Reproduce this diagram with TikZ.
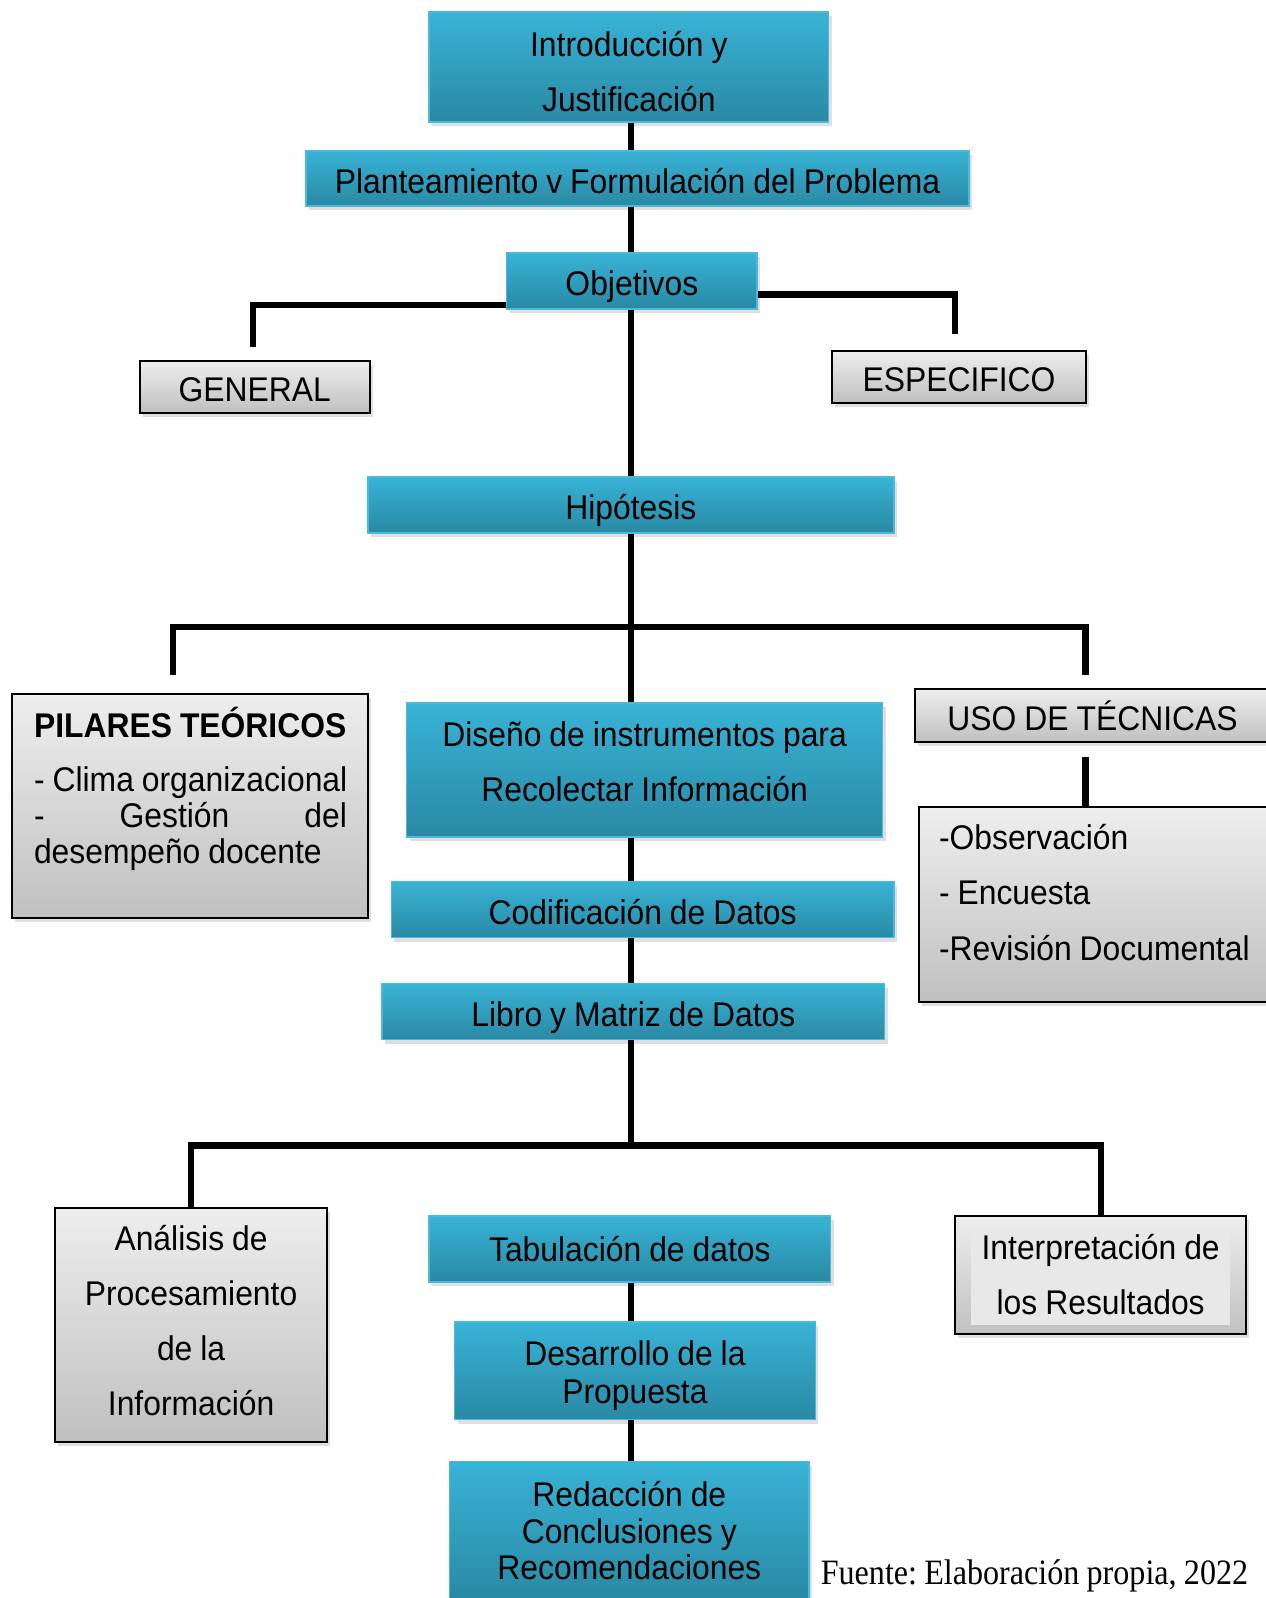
\documentclass[tikz,border=0pt]{standalone}
\usepackage{fontspec}
\setmainfont{Liberation Sans}[FakeStretch=0.93, WordSpace=0.9]
\newfontfamily\timesf{Liberation Serif}[FakeStretch=0.9, WordSpace=0.9]
\usetikzlibrary{shadows}
\frenchspacing
\definecolor{bluetop}{RGB}{56,179,214}
\definecolor{bluebot}{RGB}{41,137,164}
\definecolor{blueedge}{RGB}{75,185,220}
\definecolor{graytop}{RGB}{238,238,238}
\definecolor{graybot}{RGB}{192,192,192}
\definecolor{grayin}{RGB}{232,232,232}
\tikzset{
  mainfont/.style={font=\fontsize{16.8}{27}\selectfont},
  bluebox/.style={rectangle, draw=blueedge, line width=0.8pt, top color=bluetop, bottom color=bluebot,
    drop shadow={opacity=0.25, shadow xshift=1.5pt, shadow yshift=-2pt},
    align=center, inner sep=0pt, mainfont},
  graybox/.style={rectangle, draw=black, line width=1pt, top color=graytop, bottom color=graybot,
    drop shadow={opacity=0.25, shadow xshift=1.5pt, shadow yshift=-2pt},
    align=center, inner sep=0pt, mainfont},
  oneline/.style={text height=15pt, text depth=0.5pt},
  boxtext/.style={inner sep=0pt, align=left, mainfont},
  conn/.style={line width=3.1pt, black},
}
\begin{document}
\begin{tikzpicture}[x=0.5pt, y=-0.5pt]
\useasboundingbox[fill=white] (0,0) rectangle (1242,1568);

\coordinate (tx) at (619,0);
\coordinate (genTop) at (248,340);
\coordinate (espTop) at (937,328);
\coordinate (pilTop) at (170,662);
\coordinate (usoTop) at (1065,662);
\coordinate (usoBot) at (1065,743);

% boxes
\node[bluebox, minimum width=196pt, minimum height=54pt] (intro) at (617,66) {\mbox{}\\[-10pt]Introducción y\\Justificación};
\node[bluebox, oneline, minimum width=325.5pt, minimum height=27pt] (plan) at (625.5,175) {Planteamiento v Formulación del Problema};
\node[bluebox, oneline, minimum width=123pt, minimum height=27.5pt] (obj) at (620,275.5) {Objetivos};
\node[graybox, oneline, minimum width=113pt, minimum height=25.5pt] (gen) at (250,379.5) {GENERAL};
\node[graybox, oneline, minimum width=125pt, minimum height=25.5pt] (esp) at (941,369.5) {ESPECIFICO};
\node[bluebox, oneline, minimum width=258pt, minimum height=27.5pt] (hip) at (619,495.5) {Hipótesis};

\node[graybox, minimum width=174.5pt, minimum height=110pt] (pil) at (186.5,791) {};
\node[boxtext, text width=170pt, anchor=base west, font=\fontsize{16.8}{17.5}\selectfont] (pilt) at (33,724)
  {\spaceskip=0pt\xspaceskip=0pt\textbf{PILARES TEÓRICOS}\\[9pt]- Clima organizacional\\\makebox[153.5pt][l]{-\hfill Gestión\hfill del}\\desempeño docente};

\node[bluebox, minimum width=233.5pt, minimum height=65.5pt] (dis) at (632.5,755.5) {Diseño de instrumentos para\\Recolectar Información\\[-19pt]\mbox{}};
\node[graybox, oneline, minimum width=174pt, minimum height=26pt] (uso) at (1072,702) {USO DE TÉCNICAS};
\node[graybox, minimum width=172pt, minimum height=95.5pt] (tec) at (1074,887.5) {};
\node[boxtext, text width=165pt, anchor=base west] (tect) at (921,834)
  {\spaceskip=0pt\xspaceskip=0pt-Observación\\- Encuesta\\-Revisión Documental};

\node[bluebox, oneline, minimum width=246.5pt, minimum height=27.5pt] (cod) at (630.5,892.5) {Codificación de Datos};
\node[bluebox, oneline, minimum width=246.5pt, minimum height=27.5pt] (lib) at (621.5,992.5) {Libro y Matriz de Datos};

\node[graybox, minimum width=133.5pt, minimum height=115pt] (ana) at (187.5,1300) {Análisis de\\Procesamiento\\de la\\Información\\[-23pt]\mbox{}};
\node[bluebox, minimum width=197pt, minimum height=32.5pt] (tab) at (618,1225.5) {Tabulación de datos};
\node[graybox, minimum width=143pt, minimum height=58pt,
  path picture={\fill[grayin] ([xshift=8pt,yshift=-8pt]path picture bounding box.north west) rectangle ([xshift=-8pt,yshift=4.5pt]path picture bounding box.south east);}]
  (int) at (1080,1251) {Interpretación de\\los Resultados};
\node[bluebox, minimum width=177pt, minimum height=48pt, font=\fontsize{16.8}{18.5}\selectfont] (des) at (623,1345) {\mbox{}\\[-1.25pt]Desarrollo de la\\Propuesta};
\node[bluebox, minimum width=176.5pt, minimum height=68pt, font=\fontsize{16.8}{18}\selectfont] (red) at (617.5,1502) {Redacción de\\Conclusiones y\\Recomendaciones};

\node[inner sep=0pt, anchor=base west, font=\timesf\fontsize{17.5}{20}\selectfont] (fuente) at (805,1555) {\frenchspacing Fuente: Elaboración propia, 2022};

% connectors
\draw[conn] (tx |- intro.south) -- (tx |- plan.north);
\draw[conn] (tx |- plan.south) -- (tx |- obj.north);
\draw[conn] (tx |- obj.south) -- (tx |- hip.north);
\draw[conn] (tx |- hip.south) -- (tx |- dis.north);
\draw[conn] (tx |- dis.south) -- (tx |- cod.north);
\draw[conn] (tx |- cod.south) -- (tx |- lib.north);
\draw[conn] (tx |- lib.south) -- (tx |- 0,1124);
\draw[conn] (tx |- tab.south) -- (tx |- des.north);
\draw[conn] (tx |- des.south) -- (tx |- red.north);

\draw[conn] (obj.west |- 0,299) -- (genTop |- 0,299) -- (genTop);
\draw[conn] (obj.east |- 0,289) -- (espTop |- 0,289) -- (espTop);
\draw[conn] (pilTop) -- (pilTop |- 0,615) -- (usoTop |- 0,615) -- (usoTop);
\draw[conn] (usoBot) -- (usoBot |- tec.north);
\draw[conn] (ana.north) -- (ana.north |- 0,1124) -- (int.north |- 0,1124) -- (int.north);
\end{tikzpicture}
\end{document}
